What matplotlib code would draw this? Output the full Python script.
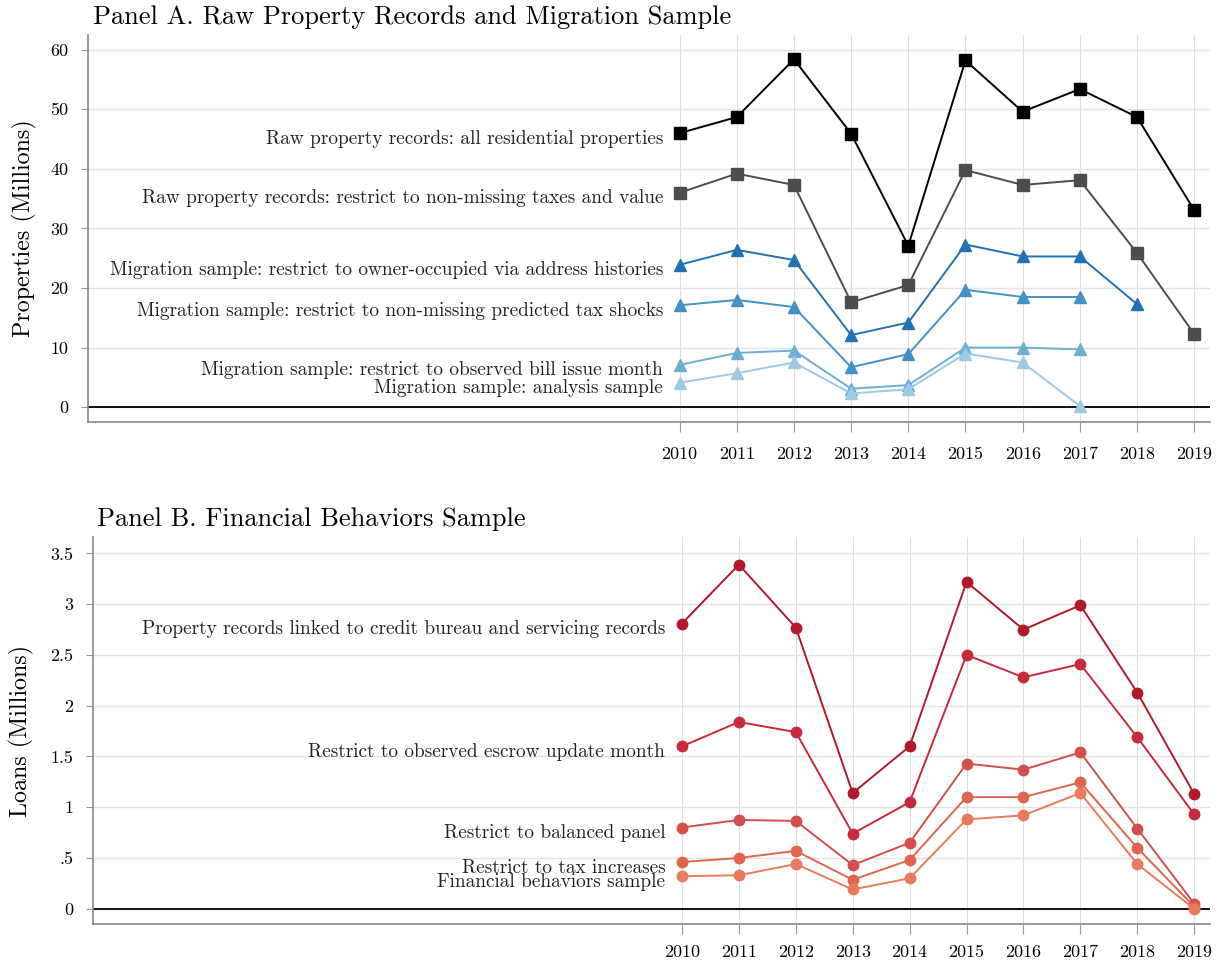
#!/usr/bin/env python
"""Sample construction figure: property records / migration sample and financial behaviors sample."""
import numpy as np
import matplotlib
matplotlib.use("Agg")
import matplotlib.pyplot as plt  # noqa: E402

plt.rcParams["font.family"] = ["cmr10", "DejaVu Serif"]
plt.rcParams["axes.formatter.use_mathtext"] = True

years = np.arange(2010, 2020)

# Panel A: properties (millions)
a_labels = [
    "Raw property records: all residential properties",
    "Raw property records: restrict to non-missing taxes and value",
    "Migration sample: restrict to owner-occupied via address histories",
    "Migration sample: restrict to non-missing predicted tax shocks",
    "Migration sample: restrict to observed bill issue month",
    "Migration sample: analysis sample",
]
a_raw_all = [46.0, 48.7, 58.4, 45.9, 27.1, 58.2, 49.6, 53.4, 48.7, 33.1]
a_raw_nonmiss = [36.0, 39.2, 37.3, 17.6, 20.5, 39.8, 37.3, 38.1, 25.9, 12.3]
a_owner_occ = [23.9, 26.4, 24.7, 12.1, 14.2, 27.3, 25.3, 25.3, 17.3, np.nan]
a_tax_shock = [17.1, 18.0, 16.8, 6.7, 8.9, 19.7, 18.5, 18.5, np.nan, np.nan]
a_bill_month = [7.1, 9.1, 9.5, 3.1, 3.7, 10.0, 10.0, 9.7, np.nan, np.nan]
a_analysis = [4.1, 5.7, 7.5, 2.3, 3.0, 9.0, 7.5, 0.2, np.nan, np.nan]
a_series = [a_raw_all, a_raw_nonmiss, a_owner_occ, a_tax_shock, a_bill_month, a_analysis]
a_colors = ["#000000", "#4d4d4d", "#2171b5", "#4292c6", "#6baed6", "#9ecae1"]
a_markers = ["s", "s", "^", "^", "^", "^"]
a_yticks = [0, 10, 20, 30, 40, 50, 60]

# Panel B: loans (millions)
b_labels = [
    "Property records linked to credit bureau and servicing records",
    "Restrict to observed escrow update month",
    "Restrict to balanced panel",
    "Restrict to tax increases",
    "Financial behaviors sample",
]
b_linked = [2.81, 3.39, 2.77, 1.14, 1.60, 3.22, 2.75, 2.99, 2.13, 1.13]
b_escrow = [1.60, 1.84, 1.74, 0.74, 1.05, 2.50, 2.28, 2.41, 1.69, 0.93]
b_balanced = [0.80, 0.875, 0.865, 0.43, 0.65, 1.43, 1.37, 1.54, 0.79, 0.05]
b_tax_inc = [0.46, 0.50, 0.57, 0.285, 0.48, 1.10, 1.10, 1.245, 0.60, 0.02]
b_final = [0.32, 0.33, 0.44, 0.19, 0.30, 0.88, 0.92, 1.14, 0.44, 0.0]
b_series = [b_linked, b_escrow, b_balanced, b_tax_inc, b_final]
b_colors = ["#b2182b", "#c8293b", "#d44e4c", "#e0654f", "#e97a5b"]
b_yticks = [0, 0.5, 1, 1.5, 2, 2.5, 3, 3.5]
b_yticklabels = ["0", ".5", "1", "1.5", "2", "2.5", "3", "3.5"]


def style(ax, yticks, yticklabels, ylim, xpad):
    ax.set_xlim(1999.65, 2019.27)
    ax.set_ylim(*ylim)
    ax.set_xticks(years)
    ax.set_xticklabels([str(y) for y in years], fontsize=13)
    ax.set_yticks(yticks)
    ax.set_yticklabels(yticklabels, fontsize=13)
    ax.tick_params(axis="x", length=7, color="#999999", pad=xpad)
    ax.tick_params(axis="y", length=5, color="#999999", pad=9)
    for s in ["top", "right"]:
        ax.spines[s].set_visible(False)
    for s in ["left", "bottom"]:
        ax.spines[s].set_color("#888888")
        ax.spines[s].set_linewidth(1.2)
    ax.grid(axis="y", color="#e3e3e3", lw=1.0)
    ax.grid(axis="x", color="#dddddd", lw=0.8)
    ax.set_axisbelow(True)
    ax.axhline(0, color="black", lw=1.3, zorder=2)


def draw(ax, series, labels, colors, markers, ms, offset):
    for vals, lab, c, m in zip(series, labels, colors, markers):
        ax.plot(years, vals, color=c, lw=1.4, marker=m, ms=ms, zorder=3)
        ax.annotate(lab, (years[0], vals[0]), xytext=(-12, offset), textcoords="offset points",
                    ha="right", va="center", fontsize=13.9, color="#222222")


fig = plt.figure(figsize=(12.23, 9.68), dpi=100)
axA = fig.add_axes([0.072, 0.564, 0.917, 0.400])
axB = fig.add_axes([0.076, 0.0455, 0.913, 0.3995])

draw(axA, a_series, a_labels, a_colors, a_markers, 8, -4)
style(axA, a_yticks, [str(t) for t in a_yticks], (-2.5, 62.5), 11)
axA.set_ylabel("Properties (Millions)", fontsize=17.3, labelpad=10)
axA.set_title("Panel A. Raw Property Records and Migration Sample", loc="left", fontsize=19, pad=8, x=0.004)

draw(axB, b_series, b_labels, b_colors, ["o"] * 5, 7.5, -4)
style(axB, b_yticks, b_yticklabels, (-0.15, 3.66), 8)
axB.set_ylabel("Loans (Millions)", fontsize=17.3, labelpad=12)
axB.set_title("Panel B. Financial Behaviors Sample", loc="left", fontsize=19, pad=8, x=0.004)

fig.savefig("out.png", dpi=100)
